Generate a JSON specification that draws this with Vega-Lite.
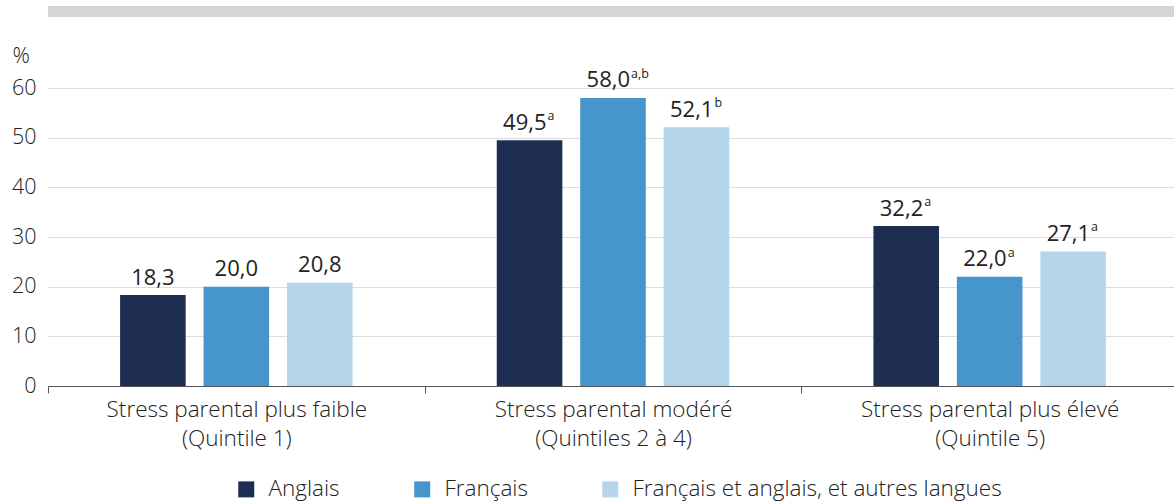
{
  "$schema": "https://vega.github.io/schema/vega-lite/v6.json",
  "width": 1126,
  "height": 298,
  "autosize": {"type": "none"},
  "padding": {"left": 48, "top": 88, "right": 0, "bottom": 118},
  "background": "white",
  "config": {
    "font": "Open Sans",
    "view": {"stroke": null},
    "text": {"font": "Open Sans", "color": "#222222"}
  },
  "data": {
    "values": [
      {"group": "Stress parental plus faible|(Quintile 1)", "lang": "Anglais", "value": 18.3, "label": "18,3", "sup": ""},
      {"group": "Stress parental plus faible|(Quintile 1)", "lang": "Français", "value": 20.0, "label": "20,0", "sup": ""},
      {"group": "Stress parental plus faible|(Quintile 1)", "lang": "Français et anglais, et autres langues", "value": 20.8, "label": "20,8", "sup": ""},
      {"group": "Stress parental modéré|(Quintiles 2 à 4)", "lang": "Anglais", "value": 49.5, "label": "49,5", "sup": "a"},
      {"group": "Stress parental modéré|(Quintiles 2 à 4)", "lang": "Français", "value": 58.0, "label": "58,0", "sup": "a,b"},
      {"group": "Stress parental modéré|(Quintiles 2 à 4)", "lang": "Français et anglais, et autres langues", "value": 52.1, "label": "52,1", "sup": "b"},
      {"group": "Stress parental plus élevé|(Quintile 5)", "lang": "Anglais", "value": 32.2, "label": "32,2", "sup": "a"},
      {"group": "Stress parental plus élevé|(Quintile 5)", "lang": "Français", "value": 22.0, "label": "22,0", "sup": "a"},
      {"group": "Stress parental plus élevé|(Quintile 5)", "lang": "Français et anglais, et autres langues", "value": 27.1, "label": "27,1", "sup": "a"}
    ]
  },
  "encoding": {
    "x": {
      "field": "group",
      "type": "nominal",
      "sort": null,
      "scale": {"range": [0, 1130], "paddingInner": 0, "paddingOuter": 0},
      "axis": {
        "title": null,
        "labelAngle": 0,
        "labelExpr": "isValid(datum.value) ? split(datum.value, '|') : ''",
        "labelFontSize": 22.5,
        "labelFontWeight": 300,
        "labelLineHeight": 29,
        "labelLimit": 0,
        "labelColor": "#222222",
        "labelPadding": 5,
        "tickBand": "extent",
        "ticks": true,
        "tickSize": 7,
        "tickColor": "#555555",
        "domainColor": "#555555",
        "domainWidth": 1,
        "grid": false
      }
    },
    "xOffset": {
      "field": "lang",
      "type": "nominal",
      "sort": ["Anglais", "Français", "Français et anglais, et autres langues"],
      "scale": {"paddingInner": 0.214, "paddingOuter": 0.864}
    },
    "y": {
      "field": "value",
      "type": "quantitative",
      "scale": {"domain": [0, 60], "nice": false, "zero": true},
      "axis": {
        "title": "%",
        "titleAngle": 0,
        "titleAlign": "left",
        "titleBaseline": "alphabetic",
        "titleX": -36,
        "titleY": -26,
        "titleFontSize": 21.5,
        "titleFontWeight": 300,
        "titleColor": "#222222",
        "values": [0, 10, 20, 30, 40, 50, 60],
        "labelFontSize": 21.5,
        "labelFontWeight": 300,
        "labelColor": "#222222",
        "labelPadding": 12,
        "ticks": false,
        "domain": false,
        "grid": true,
        "gridColor": "#dcdcdc",
        "gridWidth": 1
      }
    }
  },
  "layer": [
    {
      "mark": {"type": "rule", "color": "#d4d5d5", "strokeWidth": 10},
      "encoding": {"y": {"datum": 75.4}, "x": null, "xOffset": null}
    },
    {
      "mark": {"type": "bar"},
      "encoding": {
        "color": {
          "field": "lang",
          "type": "nominal",
          "sort": ["Anglais", "Français", "Français et anglais, et autres langues"],
          "scale": {
            "domain": ["Anglais", "Français", "Français et anglais, et autres langues"],
            "range": ["#1e2d52", "#4696cd", "#b5d6ea"]
          },
          "legend": {
            "title": null,
            "orient": "none",
            "direction": "horizontal",
            "legendX": 187,
            "legendY": 390,
            "symbolType": "square",
            "symbolSize": 256,
            "symbolStrokeWidth": 0,
            "labelFontSize": 22.5,
            "labelFontWeight": 300,
            "labelLimit": 0,
            "labelColor": "#222222",
            "labelOffset": 11,
            "columnPadding": 71
          }
        }
      }
    },
    {
      "transform": [{"filter": "datum.sup == ''"}],
      "mark": {"type": "text", "align": "center", "baseline": "alphabetic", "dy": -10.5, "fontSize": 22},
      "encoding": {"text": {"field": "label"}}
    },
    {
      "transform": [{"filter": "datum.sup != ''"}],
      "mark": {"type": "text", "align": "right", "baseline": "alphabetic", "dx": 17, "dy": -10.5, "fontSize": 22},
      "encoding": {"text": {"field": "label"}}
    },
    {
      "transform": [{"filter": "datum.sup != ''"}],
      "mark": {"type": "text", "align": "left", "baseline": "alphabetic", "dx": 18, "dy": -20, "fontSize": 12.5},
      "encoding": {"text": {"field": "sup"}}
    }
  ]
}
